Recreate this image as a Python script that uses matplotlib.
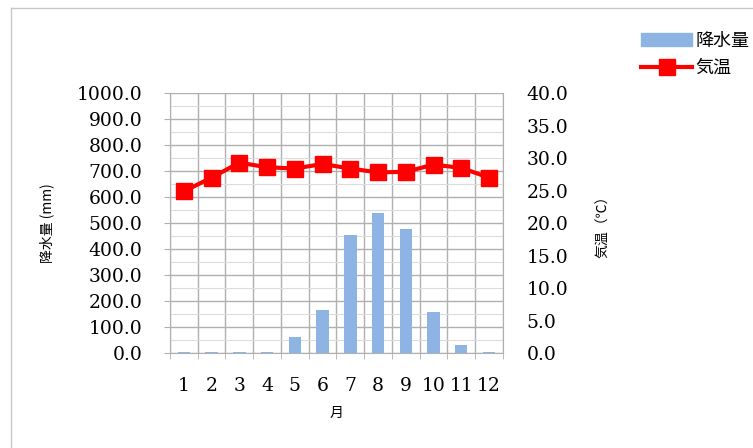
import matplotlib.pyplot as plt
from matplotlib.lines import Line2D
from matplotlib.patches import Patch
import numpy as np

plt.rcParams['font.family'] = ['DejaVu Serif', 'Noto Sans CJK JP']

months = [str(m) for m in range(1, 13)]
rain = [3, 3, 5, 3, 62, 166, 456, 540, 478, 157, 30, 5]          # 降水量 mm
temp = [24.9, 27.0, 29.3, 28.6, 28.4, 29.1, 28.4, 27.8, 27.9, 29.0, 28.5, 27.0]  # 気温 ℃

fig = plt.figure(figsize=(7.53, 4.48), dpi=100)
ax = fig.add_axes([0.2258, 0.212, 0.442, 0.580])
ax2 = ax.twinx()

x = np.arange(len(months))
grid_c = '#b0b0b0'
fs = 13.5

ax.bar(x, rain, width=0.45, color='#8db4e2', zorder=3)
ax.set_xlim(-0.5, len(months) - 0.5)
ax.set_ylim(0, 1000)
ax.set_yticks(np.arange(0, 1001, 100))
ax.set_yticklabels([f'{v:.1f}' for v in np.arange(0, 1001, 100)], fontsize=fs)
ax.set_yticks(np.arange(50, 1000, 100), minor=True)
ax.set_xticks(x)
ax.set_xticklabels(months, fontsize=fs)
ax.set_xticks(np.arange(-0.5, len(months)), minor=True)
ax.tick_params(axis='x', which='major', length=0, pad=17)
ax.tick_params(axis='x', which='minor', length=4, color=grid_c)
ax.tick_params(axis='y', which='major', length=4, color=grid_c, pad=16)
ax.tick_params(axis='y', which='minor', length=0)
ax.grid(True, axis='y', which='major', color=grid_c, lw=1, zorder=0)
ax.grid(True, axis='y', which='minor', color='#dcdcdc', lw=0.8, zorder=0)
ax.grid(True, axis='x', which='minor', color=grid_c, lw=1, zorder=0)
ax.set_axisbelow(True)
for s in ['left', 'bottom', 'right']:
    ax.spines[s].set_color(grid_c)
ax.spines['top'].set_visible(False)
ax.set_ylabel('降水量 (mm)', family=['Noto Sans CJK JP'], fontsize=10, labelpad=16)
ax.set_xlabel('月', family=['Noto Sans CJK JP'], fontsize=10, labelpad=8)

ax2.plot(x, temp, color='#ff0000', lw=3, marker='s', ms=11, zorder=4)
ax2.set_ylim(0, 40)
ax2.set_yticks(np.arange(0, 41, 5))
ax2.set_yticklabels([f'{v:.1f}' for v in np.arange(0, 41, 5)], fontsize=fs)
ax2.tick_params(axis='y', length=0, pad=17)
for s in ['left', 'bottom', 'right', 'top']:
    ax2.spines[s].set_visible(False)
ax2.set_ylabel('気温（℃）', family=['Noto Sans CJK JP'], fontsize=10, rotation=90, labelpad=20)

handles = [Patch(color='#8db4e2'),
           Line2D([], [], color='#ff0000', lw=3, marker='s', ms=11)]
fig.legend(handles, ['降水量', '気温'], loc='upper left', bbox_to_anchor=(0.83, 0.965),
           frameon=False, prop={'family': 'Noto Sans CJK JP', 'size': 13},
           handlelength=2.8, handletextpad=0.2, labelspacing=0.5)

# outer frame
fig.add_artist(Line2D([11 / 753, 11 / 753], [0, 1 - 8 / 448], color='#c8c8c8', lw=1,
                      transform=fig.transFigure))
fig.add_artist(Line2D([11 / 753, 1], [1 - 8 / 448, 1 - 8 / 448], color='#c8c8c8', lw=1,
                      transform=fig.transFigure))

fig.savefig('out.png', dpi=100)
